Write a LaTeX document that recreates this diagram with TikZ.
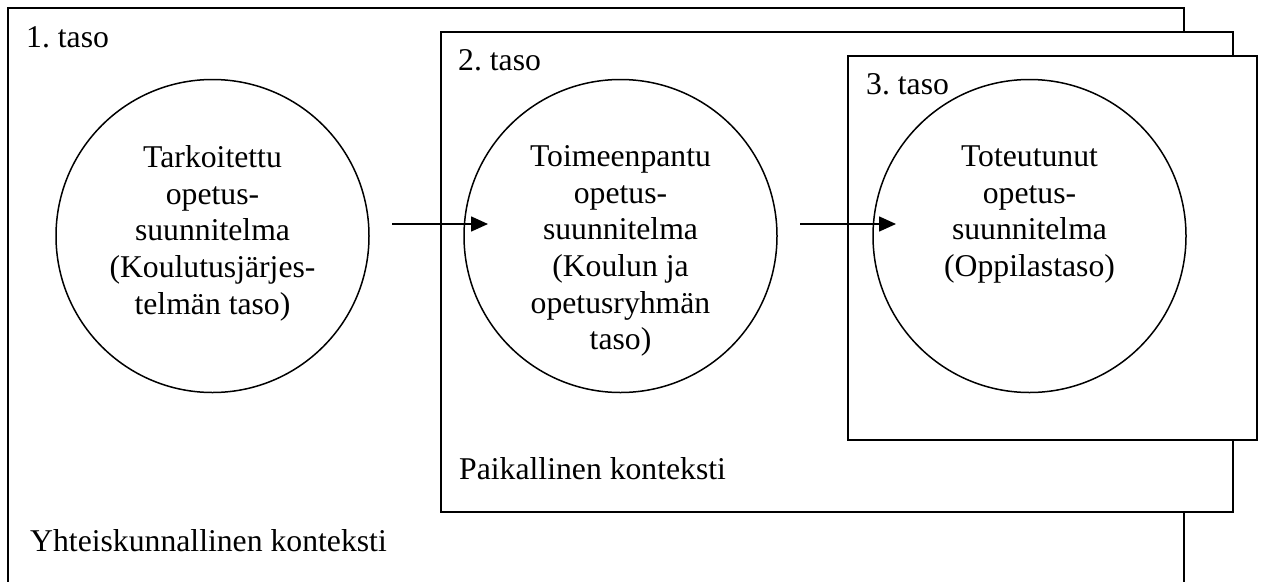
\documentclass[tikz,border=0pt]{standalone}
\usepackage{fontspec}
\setmainfont{Liberation Serif}
\usetikzlibrary{arrows.meta,calc}
\frenchspacing
\begin{document}
\begin{tikzpicture}[x=1pt,y=-1pt,
  every node/.style={font=\fontsize{31.7}{36.6}\selectfont},
  levelbox/.style={rectangle, draw=black, line width=2pt, fill=white,
    inner sep=0pt, outer sep=0pt, anchor=north west},
  ring/.style={circle, draw=black, line width=1.5pt, fill=white,
    minimum size=313pt, inner sep=0pt, outer sep=0pt},
  ringtext/.style={align=center, inner sep=0pt, anchor=north},
  caption/.style={inner sep=0pt, anchor=base west},
  conn/.style={line width=1.6pt, -{Triangle[length=17pt,width=15pt]}}
]
\useasboundingbox (0,0) rectangle (1263,581);

% nested levels
\node[levelbox, minimum width=1176pt, minimum height=576pt] (b1) at (8,8) {};
\node[levelbox, minimum width=792pt, minimum height=480pt] (b2) at (441,32) {};
\node[levelbox, minimum width=409pt, minimum height=384pt] (b3) at (848,56) {};

% level captions
\node[caption] (l1) at (26,47.5) {1. taso};
\node[caption] (l2) at (458,70.7) {2. taso};
\node[caption] (l3) at (866,94) {3. taso};
\node[caption] (k1) at (30,551) {Yhteiskunnallinen konteksti};
\node[caption] (k2) at (459,479) {Paikallinen konteksti};

% curricula
\node[ring] (c1) at (212.5,236) {};
\node[ring] (c2) at (620.5,236) {};
\node[ring] (c3) at (1029.5,236) {};

\node[ringtext] (t1) at ($(c1.center)+(0,-90.5)$)
  {Tarkoitettu\\opetus-\\suunnitelma\\(Koulutusjärjes-\\telmän taso)};
\node[ringtext] (t2) at ($(c2.center)+(0,-90.5)$)
  {Toimeenpantu\\opetus-\\suunnitelma\\(Koulun ja\\opetusryhmän\\taso)};
\node[ringtext] (t3) at ($(c3.center)+(0,-90.5)$)
  {Toteutunut\\opetus-\\suunnitelma\\(Oppilastaso)};

% flow between levels
\coordinate (a1s) at ($(c1.center)+(179.5,-12)$);
\coordinate (a1e) at ($(c2.center)+(-132.5,-12)$);
\coordinate (a2s) at ($(c2.center)+(179.5,-12)$);
\coordinate (a2e) at ($(c3.center)+(-133.5,-12)$);
\draw[conn] (a1s) -- (a1e);
\draw[conn] (a2s) -- (a2e);
\end{tikzpicture}
\end{document}
